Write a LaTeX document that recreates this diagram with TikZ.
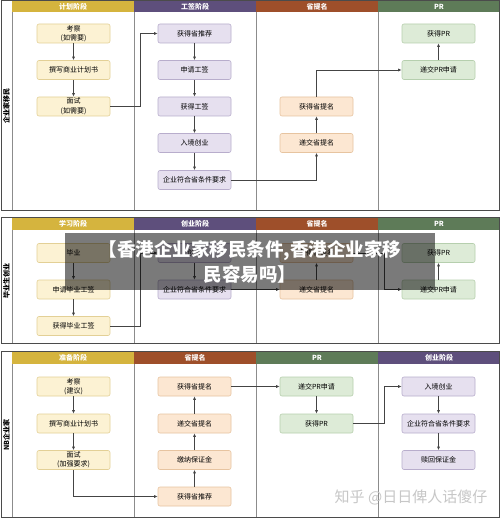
\documentclass[tikz,border=0pt]{standalone}
\usepackage{fontspec}
\usepackage{xcolor}
\usepackage{tikz}
\usetikzlibrary{arrows.meta}
\usetikzlibrary{calc}
\newfontfamily\cjk{Noto Sans CJK SC}
\definecolor{ylhead}{HTML}{D5B43E}
\definecolor{ylfill}{HTML}{FCF2D3}
\definecolor{ylline}{HTML}{E3D096}
\definecolor{puhead}{HTML}{5E4F7C}
\definecolor{pufill}{HTML}{E6E0EF}
\definecolor{puline}{HTML}{B8ADCC}
\definecolor{brhead}{HTML}{9E4F2A}
\definecolor{brfill}{HTML}{FCE7D2}
\definecolor{brline}{HTML}{E7C4A0}
\definecolor{grhead}{HTML}{5E7B58}
\definecolor{grfill}{HTML}{DDEBD7}
\definecolor{grline}{HTML}{B6CFAE}
\definecolor{frameline}{HTML}{4B4B4B}
\definecolor{divline}{HTML}{8C8C8C}
\definecolor{wire}{HTML}{444444}
\tikzset{
	box/.style={draw,rounded corners=2pt,minimum width=73pt,minimum height=19pt,inner sep=1pt,align=center,line width=0.6pt,font=\cjk\fontsize{7}{9.5}\selectfont},
	ybox/.style={box,fill=ylfill,draw=ylline},
	pbox/.style={box,fill=pufill,draw=puline},
	bbox/.style={box,fill=brfill,draw=brline},
	gbox/.style={box,fill=grfill,draw=grline},
	headtext/.style={text=white,font=\cjk\bfseries\fontsize{7}{8}\selectfont},
	lanetext/.style={rotate=90,font=\cjk\bfseries\fontsize{7}{8}\selectfont},
	sectframe/.style={draw=frameline,line width=1pt},
	divider/.style={draw=divline,line width=0.8pt},
	arr/.style={draw=wire,line width=0.7pt,-{Latex[length=3.5pt,width=3pt]}}
}
\begin{document}
\begin{tikzpicture}[x=1pt,y=-1pt]
	\useasboundingbox (0,0) rectangle (500,518);
	\fill[white] (0,0) rectangle (500,518);
	% bands
	\foreach \n/\x/\c/\t in {a/12/ylhead/计划阶段,b/134/puhead/工签阶段,c/256/brhead/省提名,d/378/grhead/PR}{
		\fill[\c] (\x,1) rectangle ++(122,11);
		\node[headtext] (ha\n) at (\x+61,6.5) {\t};
	}
	\foreach \n/\x/\c/\t in {a/12/ylhead/学习阶段,b/134/puhead/创业阶段,c/256/brhead/省提名,d/378/grhead/PR}{
		\fill[\c] (\x,218) rectangle ++(122,12);
		\node[headtext] (hb\n) at (\x+61,224) {\t};
	}
	\foreach \n/\x/\c/\t in {a/12/ylhead/准备阶段,b/134/brhead/省提名,c/256/grhead/PR,d/378/puhead/创业阶段}{
		\fill[\c] (\x,351) rectangle ++(122,13);
		\node[headtext] (hc\n) at (\x+61,357.5) {\t};
	}
	\foreach \x in {12,134,256,378}{
		\draw[divider] (\x,12) -- (\x,211);
		\draw[divider] (\x,230) -- (\x,343);
		\draw[divider] (\x,364) -- (\x,517);
	}
	\draw[sectframe] (1,1) rectangle (499,211);
	\draw[sectframe] (1,218) rectangle (499,343);
	\draw[sectframe] (1,351) rectangle (499,517);
	\node[lanetext] (la) at (6.5,106) {企业家移民};
	\node[lanetext] (lb) at (6.5,281) {毕业生创业};
	\node[lanetext] (lc) at (6.5,435) {NB企业家};
	% entrepreneur
	\node[ybox] (k1) at (73.5,33.5) {考察\\(如需要)};
	\node[ybox] (k2) at (73.5,70) {撰写商业计划书};
	\node[ybox] (k3) at (73.5,106.5) {面试\\(如需要)};
	\node[pbox] (s1) at (194.5,33.5) {获得省推荐};
	\node[pbox] (s2) at (194.5,70) {申请工签};
	\node[pbox] (s3) at (194.5,106.5) {获得工签};
	\node[pbox] (s4) at (194.5,143) {入境创业};
	\node[pbox] (s5) at (194.5,180) {企业符合省条件要求};
	\node[bbox] (t1) at (316.5,106.5) {获得省提名};
	\node[bbox] (t2) at (316.5,143) {递交省提名};
	\node[gbox] (p1) at (438.5,33.5) {获得PR};
	\node[gbox] (p2) at (438.5,70) {递交PR申请};
	\draw[arr] (k1) -- (k2);
	\draw[arr] (k2) -- (k3);
	\draw[arr] (k3.east) -- ++(30,0) |- (s1.west);
	\draw[arr] (s1) -- (s2);
	\draw[arr] (s2) -- (s3);
	\draw[arr] (s3) -- (s4);
	\draw[arr] (s4) -- (s5);
	\draw[arr] (s5.east) -| (t2.south);
	\draw[arr] (t2) -- (t1);
	\draw[arr] (t1.north) |- (p2.west);
	\draw[arr] (p2) -- (p1);
	% graduate
	\node[ybox] (g1) at (73.5,253) {毕业};
	\node[ybox] (g2) at (73.5,289.5) {申请毕业工签};
	\node[ybox] (g3) at (73.5,326) {获得毕业工签};
	\node[pbox] (c1) at (194.5,253) {创业};
	\node[pbox] (c2) at (194.5,289.5) {企业符合省条件要求};
	\node[bbox] (d1) at (316.5,253) {获得省提名};
	\node[bbox] (d2) at (316.5,289.5) {递交省提名};
	\node[gbox] (q1) at (438.5,253) {获得PR};
	\node[gbox] (q2) at (438.5,289.5) {递交PR申请};
	\draw[arr] (g1) -- (g2);
	\draw[arr] (g2) -- (g3);
	\draw[arr] (g3.east) -- ++(30,0) |- (c1.west);
	\draw[arr] (c1) -- (c2);
	\draw[arr] (c2) -- (d2);
	\draw[arr] (d2) -- (d1);
	\draw[arr] (d1.east) -- ++(31,0) |- (q2.west);
	\draw[arr] (q2) -- (q1);
	% NB
	\node[ybox] (m1) at (73.5,386.5) {考察\\(建议)};
	\node[ybox] (m2) at (73.5,423.5) {撰写商业计划书};
	\node[ybox] (m3) at (73.5,460) {面试\\(加强要求)};
	\node[bbox] (r1) at (194.5,386.5) {获得省提名};
	\node[bbox] (r2) at (194.5,423.5) {递交省提名};
	\node[bbox] (r3) at (194.5,460) {缴纳保证金};
	\node[bbox] (r4) at (194.5,496.5) {获得省推荐};
	\node[gbox] (u1) at (316.5,386.5) {递交PR申请};
	\node[gbox] (u2) at (316.5,423.5) {获得PR};
	\node[pbox] (v1) at (438.5,386.5) {入境创业};
	\node[pbox] (v2) at (438.5,423.5) {企业符合省条件要求};
	\node[pbox] (v3) at (438.5,460) {赎回保证金};
	\draw[arr] (m1) -- (m2);
	\draw[arr] (m2) -- (m3);
	\draw[arr] (m3.south) |- (r4.west);
	\draw[arr] (r4) -- (r3);
	\draw[arr] (r3) -- (r2);
	\draw[arr] (r2) -- (r1);
	\draw[arr] (r1) -- (u1);
	\draw[arr] (u1) -- (u2);
	\draw[arr] (u2.east) -- ++(31,0) |- (v1.west);
	\draw[arr] (v1) -- (v2);
	\draw[arr] (v2) -- (v3);
	% overlays
	\node[fill=black,fill opacity=0.52,text opacity=1,text=white,minimum width=370pt,minimum height=57pt,align=center,inner sep=0pt,font=\cjk\bfseries\fontsize{18.5}{25}\selectfont] (banner) at (250,261.5) {【香港企业家移民条件,香港企业家移\\民容易吗】};
	\node[text=black!22,font=\cjk\fontsize{15}{16}\selectfont] (mark) at (411,497) {知乎 @日日俾人话傻仔};
\end{tikzpicture}
\end{document}
